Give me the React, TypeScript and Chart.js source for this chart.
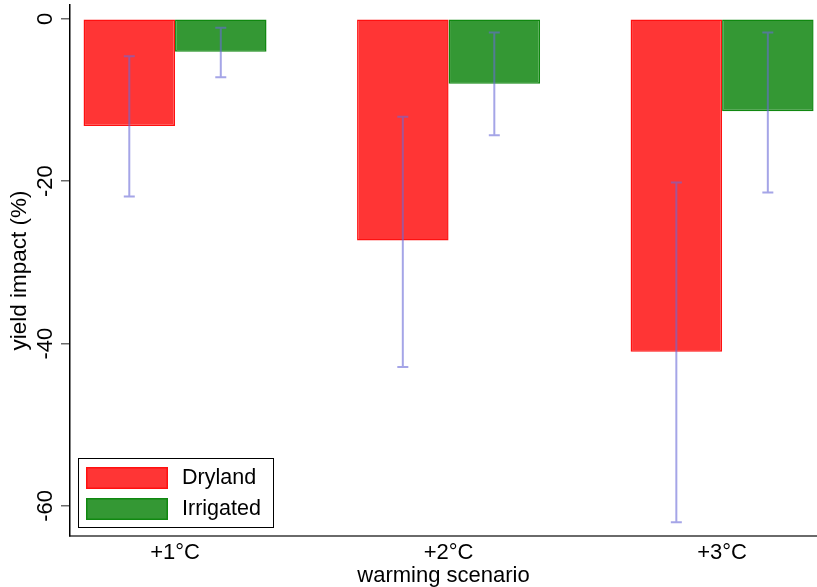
import React, { useEffect, useRef } from "react";
import { Chart, registerables } from "chart.js";

Chart.register(...registerables);

const CATEGORIES = ["+1°C", "+2°C", "+3°C"];
const X_POS = [1, 2, 3];
const SERIES_NAMES = ["Dryland", "Irrigated"];
const DRYLAND = [-13.2, -27.3, -41.0];
const DRY_LOW = [-21.9, -42.9, -62.0];
const DRY_HIGH = [-4.6, -12.05, -20.15];
const IRRIGATED = [-4.05, -8.0, -11.4];
const IRR_LOW = [-7.2, -14.35, -21.4];
const IRR_HIGH = [-1.1, -1.7, -1.7];
const Y_TICKS = [0, -20, -40, -60];

const FONT = "'Liberation Sans', Arial, Helvetica, sans-serif";

const errorBarPlugin = {
  id: "errorBars",
  afterDatasetsDraw(chart: any) {
    const ctx = chart.ctx;
    const yScale = chart.scales.y;
    chart.data.datasets.forEach((ds: any, di: number) => {
      const meta = chart.getDatasetMeta(di);
      meta.data.forEach((bar: any, i: number) => {
        const lo = yScale.getPixelForValue(ds.errLow[i]);
        const hi = yScale.getPixelForValue(ds.errHigh[i]);
        const x = bar.x;
        ctx.save();
        ctx.strokeStyle = "rgba(105,105,215,0.6)";
        ctx.lineWidth = 2;
        ctx.beginPath();
        ctx.moveTo(x, lo);
        ctx.lineTo(x, hi);
        ctx.moveTo(x - 5.5, lo);
        ctx.lineTo(x + 5.5, lo);
        ctx.moveTo(x - 5.5, hi);
        ctx.lineTo(x + 5.5, hi);
        ctx.stroke();
        ctx.restore();
      });
    });
  },
};

const legendPlugin = {
  id: "boxLegend",
  afterDraw(chart: any) {
    const ctx = chart.ctx;
    const area = chart.chartArea;
    const left = area.left + 8;
    const bottom = area.bottom - 8;
    const boxW = 196;
    const boxH = 70;
    const top = bottom - boxH;
    ctx.save();
    ctx.fillStyle = "#ffffff";
    ctx.fillRect(left, top, boxW, boxH);
    ctx.strokeStyle = "#000000";
    ctx.lineWidth = 1;
    ctx.strokeRect(left + 0.5, top + 0.5, boxW - 1, boxH - 1);
    chart.data.datasets.forEach((ds: any, i: number) => {
      const sy = top + 9 + i * 31;
      ctx.fillStyle = ds.backgroundColor;
      ctx.fillRect(left + 8, sy, 82, 22);
      ctx.strokeStyle = ds.borderColor;
      ctx.lineWidth = 1.5;
      ctx.strokeRect(left + 8.75, sy + 0.75, 80.5, 20.5);
      ctx.fillStyle = "#000000";
      ctx.font = `21.5px ${FONT}`;
      ctx.textBaseline = "middle";
      ctx.textAlign = "left";
      ctx.fillText(ds.label, left + 104, sy + 11.5);
    });
    ctx.restore();
  },
};

export default function App() {
  const ref = useRef<HTMLCanvasElement>(null);
  useEffect(() => {
    if (!ref.current) return;
    const chart = new Chart(ref.current, {
      type: "bar",
      data: {
        datasets: [
          {
            label: SERIES_NAMES[0],
            data: X_POS.map((x, i) => ({ x, y: DRYLAND[i] })),
            errLow: DRY_LOW,
            errHigh: DRY_HIGH,
            backgroundColor: "#ff3535",
            borderColor: "#ff1010",
            borderWidth: 1.5,
            borderSkipped: false,
          } as any,
          {
            label: SERIES_NAMES[1],
            data: X_POS.map((x, i) => ({ x, y: IRRIGATED[i] })),
            errLow: IRR_LOW,
            errHigh: IRR_HIGH,
            backgroundColor: "#349834",
            borderColor: "#108810",
            borderWidth: 1.5,
            borderSkipped: false,
          } as any,
        ],
      },
      options: {
        animation: false,
        responsive: false,
        layout: { padding: { top: 5, right: 0, left: 0, bottom: 0 } },
        datasets: { bar: { categoryPercentage: 0.669, barPercentage: 1 } },
        plugins: { legend: { display: false }, tooltip: { enabled: false } },
        scales: {
          x: {
            type: "linear",
            offset: false,
            min: 0.616,
            max: 3.347,
            afterBuildTicks: (s: any) => {
              s.ticks = X_POS.map((v) => ({ value: v }));
            },
            afterFit: (s: any) => {
              s.height = 51;
              s.paddingLeft = 0;
              s.paddingRight = 0;
            },
            grid: { display: false, drawTicks: false },
            border: { display: true, color: "#6a6a6a", width: 2 },
            ticks: {
              padding: 4,
              color: "#000",
              font: { family: FONT, size: 22 },
              callback: (v: any) => {
                const idx = X_POS.indexOf(Number(v));
                return idx >= 0 ? CATEGORIES[idx] : "";
              },
              maxRotation: 0,
              minRotation: 0,
            },
            title: {
              display: true,
              text: "warming scenario",
              color: "#000",
              font: { family: FONT, size: 22, lineHeight: 1 },
              padding: { top: 0, bottom: 0 },
            },
          },
          y: {
            type: "linear",
            min: -63.7,
            max: 1.7,
            afterBuildTicks: (s: any) => {
              s.ticks = Y_TICKS.map((v) => ({ value: v }));
            },
            afterFit: (s: any) => {
              s.width = 70;
              s.paddingTop = 0;
              s.paddingBottom = 0;
            },
            grid: {
              drawOnChartArea: false,
              drawTicks: true,
              tickLength: 9,
              color: "#6a6a6a",
              lineWidth: 1.5,
            },
            border: { display: true, color: "#000", width: 1.5 },
            ticks: {
              color: "#000",
              font: { family: FONT, size: 22 },
              minRotation: 90,
              maxRotation: 90,
              crossAlign: "center",
              padding: -1,
              callback: (v: any) => String(v),
            },
            title: {
              display: true,
              text: "yield impact (%)",
              color: "#000",
              font: { family: FONT, size: 22.5, lineHeight: 1 },
              padding: { top: 9, bottom: 0 },
            },
          },
        },
      } as any,
      plugins: [errorBarPlugin, legendPlugin],
    });
    return () => chart.destroy();
  }, []);
  return (
    <div style={{ position: "absolute", left: 0, top: 0, width: 817, height: 587, background: "#fff" }}>
      <canvas ref={ref} width={817} height={587} style={{ display: "block" }} />
    </div>
  );
}
